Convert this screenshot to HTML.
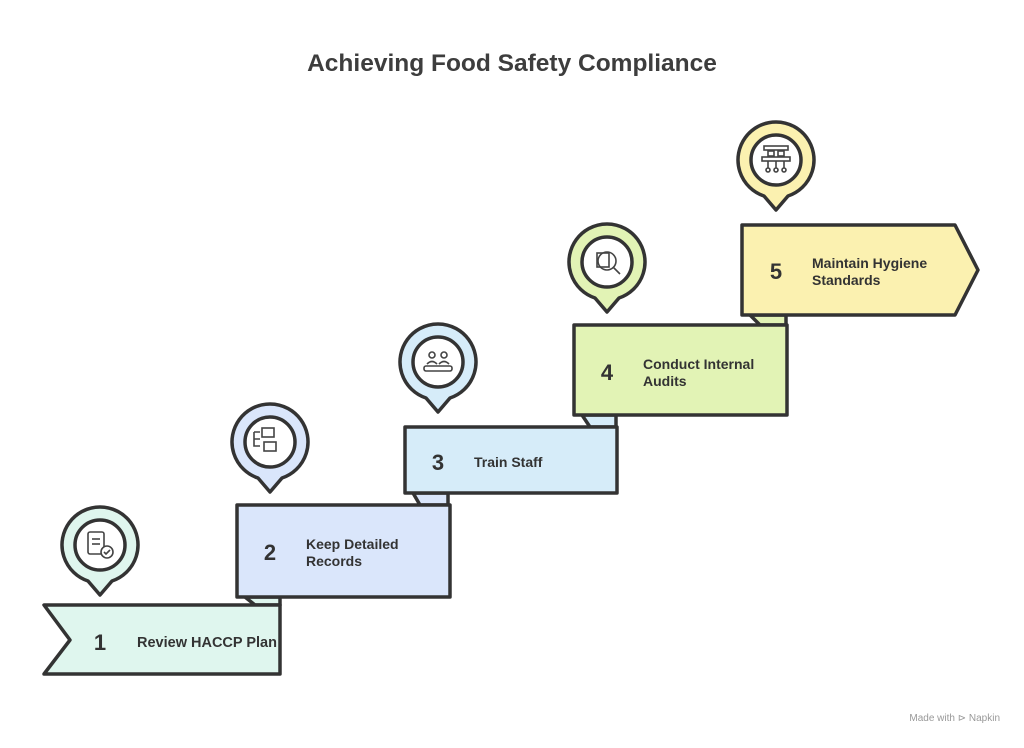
<!DOCTYPE html>
<html><head><meta charset="utf-8"><style>
body{margin:0;background:#fff;width:1024px;height:743px;overflow:hidden;font-family:"Liberation Sans",sans-serif}
</style></head><body>
<svg width="1024" height="743" viewBox="0 0 1024 743" xmlns="http://www.w3.org/2000/svg">
<text x="512" y="71" text-anchor="middle" font-size="24.5" font-weight="bold" fill="#3d3d3d" font-family="Liberation Sans,sans-serif">Achieving Food Safety Compliance</text>
<g stroke="#333" stroke-width="3.5" stroke-linejoin="round">
<polygon points="245,597 280,597 280,605 255,605" fill="#dff6ee"/>
<polygon points="413,493 448,493 448,505 420,505" fill="#dae6fb"/>
<polygon points="582,415 616,415 616,427 590,427" fill="#d6ecf9"/>
<polygon points="750,315 786,315 786,325 760,325" fill="#e2f3b5"/>
<polygon points="44,605 280,605 280,674 44,674 70,640" fill="#dff6ee"/>
<rect x="237" y="505" width="213" height="92" fill="#dae6fb"/>
<rect x="405" y="427" width="212" height="66" fill="#d6ecf9"/>
<rect x="574" y="325" width="213" height="90" fill="#e2f3b5"/>
<polygon points="742,225 955,225 978,270 955,315 742,315" fill="#fbf1b0"/>
</g>
<g font-family="Liberation Sans,sans-serif" font-weight="bold" fill="#333">
<text x="100" y="650" font-size="22" text-anchor="middle">1</text>
<text x="137" y="647" font-size="14.5">Review HACCP Plan</text>
<text x="270" y="560" font-size="22" text-anchor="middle">2</text>
<text x="306" y="549" font-size="14">Keep Detailed</text>
<text x="306" y="566" font-size="14">Records</text>
<text x="438" y="470" font-size="22" text-anchor="middle">3</text>
<text x="474" y="467" font-size="14">Train Staff</text>
<text x="607" y="380" font-size="22" text-anchor="middle">4</text>
<text x="643" y="369" font-size="14">Conduct Internal</text>
<text x="643" y="386" font-size="14">Audits</text>
<text x="776" y="279" font-size="22" text-anchor="middle">5</text>
<text x="812" y="268" font-size="14">Maintain Hygiene</text>
<text x="812" y="285" font-size="14">Standards</text>
</g>
<g stroke="#333" stroke-width="3.5" stroke-linejoin="round">
<g transform="translate(100,545)"><path d="M-12,36 A38,38 0 1 1 12,36 L0,50 Z" fill="#dff6ee"/><circle r="25" fill="#fff"/></g>
<g transform="translate(270,442)"><path d="M-12,36 A38,38 0 1 1 12,36 L0,50 Z" fill="#dae6fb"/><circle r="25" fill="#fff"/></g>
<g transform="translate(438,362)"><path d="M-12,36 A38,38 0 1 1 12,36 L0,50 Z" fill="#d6ecf9"/><circle r="25" fill="#fff"/></g>
<g transform="translate(607,262)"><path d="M-12,36 A38,38 0 1 1 12,36 L0,50 Z" fill="#e2f3b5"/><circle r="25" fill="#fff"/></g>
<g transform="translate(776,160)"><path d="M-12,36 A38,38 0 1 1 12,36 L0,50 Z" fill="#fbf1b0"/><circle r="25" fill="#fff"/></g>
</g>
<g stroke="#444" stroke-width="1.6" fill="none">
<rect x="88" y="532" width="16" height="22" rx="2"/><line x1="92" y1="539" x2="100" y2="539"/><line x1="92" y1="544" x2="100" y2="544"/><circle cx="107" cy="552" r="6" fill="#fff"/><path d="M104,552 l2,2 l4,-4"/>
<path d="M254,432 h6 M254,432 v14 h6 M254,439 h6"/><rect x="262" y="428" width="12" height="9"/><rect x="264" y="442" width="12" height="9"/>
<circle cx="432" cy="355" r="3"/><circle cx="444" cy="355" r="3"/><path d="M427,364 q5,-5 10,0 M439,364 q5,-5 10,0"/><rect x="424" y="366" width="28" height="5" rx="2"/>
<rect x="597" y="253" width="12" height="14"/><circle cx="607" cy="261" r="9"/><line x1="613" y1="267" x2="620" y2="274"/>
<rect x="764" y="146" width="24" height="4"/><rect x="768" y="151" width="6" height="5"/><rect x="778" y="151" width="6" height="5"/><rect x="762" y="157" width="28" height="4"/><path d="M768,161 v7 M776,161 v7 M784,161 v7"/><circle cx="768" cy="170" r="2"/><circle cx="776" cy="170" r="2"/><circle cx="784" cy="170" r="2"/>
</g>
<text x="1000" y="721" text-anchor="end" font-size="10" fill="#999">Made with ⊳ Napkin</text>
</svg>
</body></html>
